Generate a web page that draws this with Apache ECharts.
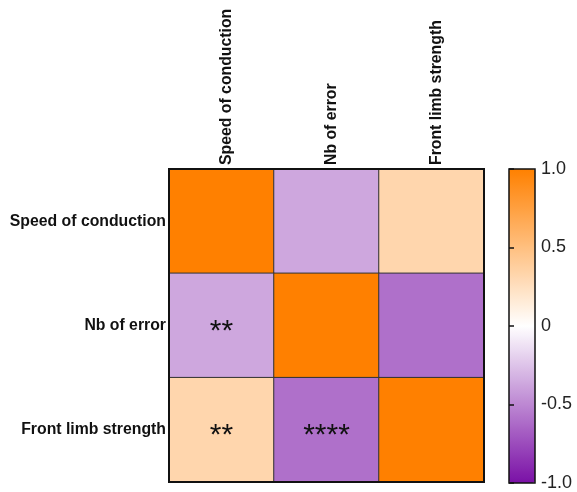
<!DOCTYPE html>
<html><head><meta charset="utf-8">
<script src="https://cdn.jsdelivr.net/npm/echarts@6/dist/echarts.min.js"></script>
<style>html,body{margin:0;padding:0;background:#fff}#c{width:577px;height:492px}</style>
</head><body><div id="c"></div>
<script>
const variables = ['Speed of conduction', 'Nb of error', 'Front limb strength'];
// correlation matrix, rows = y (top to bottom), cols = x (left to right)
const corrRows = [
  [1.00, -0.37, 0.32],
  [-0.37, 1.00, -0.60],
  [0.32, -0.60, 1.00]
];
const significance = [
  ['', '', ''],
  ['**', '', ''],
  ['**', '****', '']
];
const scaleTicks = [-1, -0.5, 0, 0.5, 1];
const scaleLabels = ['-1.0', '-0.5', '0', '0.5', '1.0'];

const data = [];
corrRows.forEach((row, r) => row.forEach((v, c) => data.push({value: [c, r, v], sig: significance[r][c]})));

const chart = echarts.init(document.getElementById('c'), null, {renderer: 'canvas'});
const FONT = 'Liberation Sans, Arial, sans-serif';
chart.setOption({
  animation: false,
  backgroundColor: '#fff',
  grid: [
    {left: 169, top: 169, width: 315, height: 313, show: true, borderColor: '#111', borderWidth: 2, backgroundColor: 'transparent', z: 10},
    {left: 509, top: 169, width: 26, height: 314, show: true, borderColor: '#111', borderWidth: 1.5, backgroundColor: 'transparent', z: 10}
  ],
  xAxis: [
    {type: 'category', gridIndex: 0, position: 'top', data: variables,
     axisLine: {show: false}, axisTick: {show: false}, splitLine: {show: false},
     axisLabel: {rotate: -90, margin: 4, color: '#111', fontFamily: FONT, fontWeight: 'bold', fontSize: 15.8, verticalAlign: 'top', lineHeight: 10}},
    {type: 'value', gridIndex: 1, show: false, min: 0, max: 1}
  ],
  yAxis: [
    {type: 'category', gridIndex: 0, data: variables, inverse: true,
     axisLine: {show: false}, axisTick: {show: false}, splitLine: {show: false},
     axisLabel: {margin: 3, color: '#111', fontFamily: FONT, fontWeight: 'bold', fontSize: 15.8}},
    {type: 'value', gridIndex: 1, position: 'right', min: -1, max: 1, interval: 0.5, z: 12,
     axisLine: {show: false}, splitLine: {show: false}, axisTick: {show: false},
     axisLabel: {margin: 6, color: '#222', fontFamily: FONT, fontSize: 18,
       formatter: v => { const i = scaleTicks.indexOf(v); return i >= 0 ? scaleLabels[i] : ''; }}},
    {type: 'value', gridIndex: 1, position: 'left', min: -1, max: 1, interval: 0.5, z: 12,
     axisLine: {show: false}, splitLine: {show: false},
     axisTick: {show: true, inside: true, length: 5, lineStyle: {color: '#111', width: 1.5}},
     axisLabel: {show: false}}
  ],
  visualMap: {
    type: 'continuous', min: -1, max: 1, calculable: false, seriesIndex: 0,
    left: 509, top: 169, padding: 0, itemWidth: 26, itemHeight: 314, text: null, showLabel: false,
    inRange: {color: ['#7A10A6', '#FFFFFF', '#FF8000']}
  },
  series: [{
    type: 'heatmap', xAxisIndex: 0, yAxisIndex: 0, data: data,
    itemStyle: {borderColor: '#333', borderWidth: 1},
    label: {show: true, formatter: p => p.data.sig, color: '#111', fontSize: 30, fontFamily: FONT, offset: [0, 6]},
    emphasis: {disabled: true}
  }]
});
</script></body></html>
